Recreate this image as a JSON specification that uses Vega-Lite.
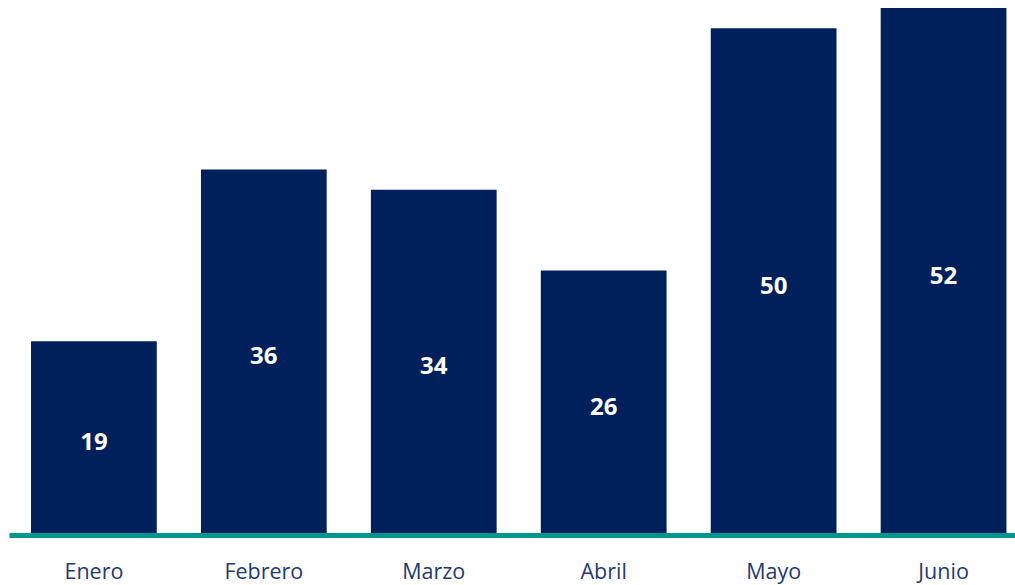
{
  "$schema": "https://vega.github.io/schema/vega-lite/v6.json",
  "width": 1006,
  "height": 533,
  "autosize": {"type": "none"},
  "padding": {"left": 9, "top": 0, "right": 0, "bottom": 52},
  "background": "white",
  "config": {"view": {"stroke": null}, "font": "Open Sans"},
  "data": {"values": [
    {"mes": "Enero", "valor": 19},
    {"mes": "Febrero", "valor": 36},
    {"mes": "Marzo", "valor": 34},
    {"mes": "Abril", "valor": 26},
    {"mes": "Mayo", "valor": 50},
    {"mes": "Junio", "valor": 52}
  ]},
  "encoding": {
    "x": {
      "field": "mes", "type": "nominal", "sort": null,
      "scale": {"paddingInner": 0.26, "paddingOuter": 0.09, "align": 0.72},
      "axis": {
        "title": null, "labelAngle": 0, "ticks": false,
        "domainColor": "#00968f", "domainWidth": 5, "offset": 2,
        "labelFontSize": 21.5, "labelColor": "#1f3a70", "labelPadding": 26,
        "labelFont": "Open Sans"
      }
    }
  },
  "layer": [
    {
      "mark": {"type": "bar", "color": "#00205b"},
      "encoding": {
        "y": {"field": "valor", "type": "quantitative", "scale": {"domain": [0, 52.8]}, "axis": null}
      }
    },
    {
      "transform": [{"calculate": "datum.valor / 2", "as": "mitad"}],
      "mark": {"type": "text", "color": "white", "fontSize": 24, "fontWeight": "bold", "baseline": "middle", "dy": 6, "font": "Open Sans"},
      "encoding": {
        "y": {"field": "mitad", "type": "quantitative", "scale": {"domain": [0, 52.8]}, "axis": null},
        "text": {"field": "valor", "type": "quantitative"}
      }
    }
  ]
}
